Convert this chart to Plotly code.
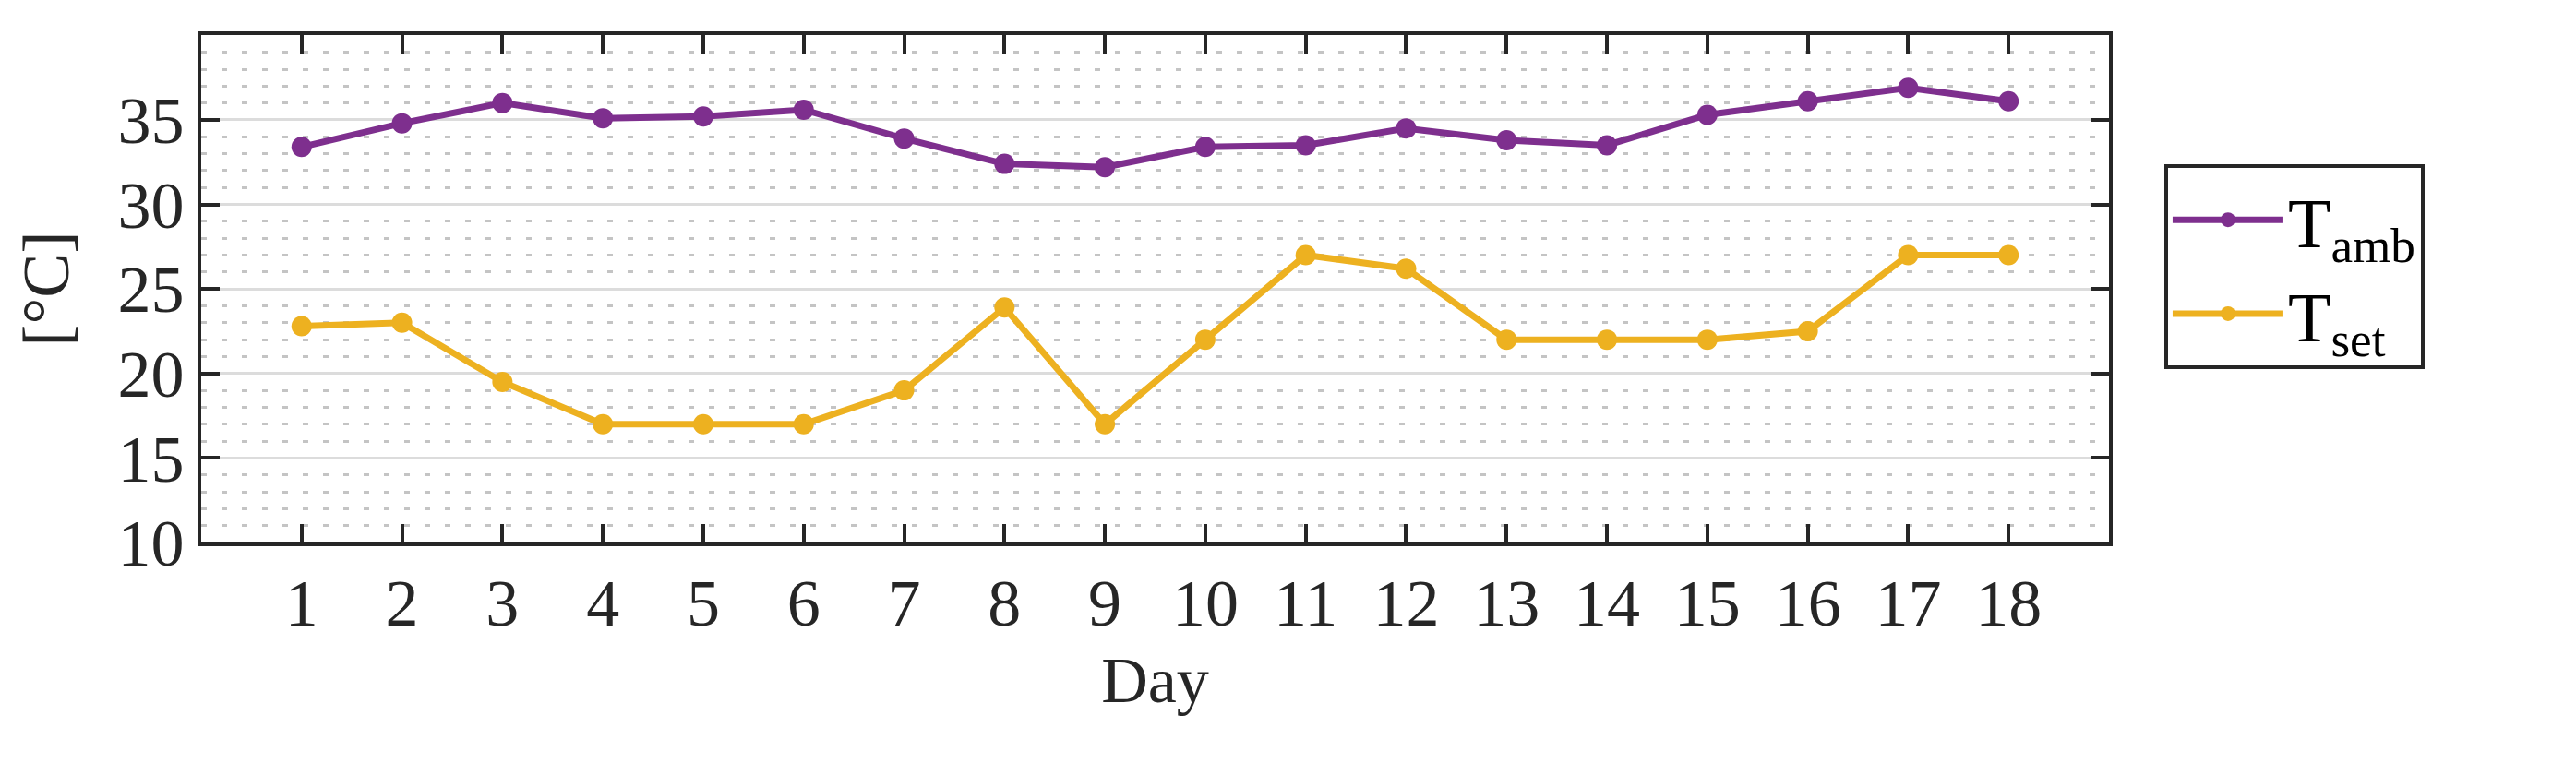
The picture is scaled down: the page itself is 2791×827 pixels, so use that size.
import plotly.graph_objects as go

days = list(range(1, 19))
t_amb = [33.4, 34.8, 36.0, 35.1, 35.2, 35.6, 33.9, 32.4, 32.2, 33.4, 33.5, 34.5, 33.8, 33.5, 35.3, 36.1, 36.9, 36.1]
t_set = [22.8, 23.0, 19.5, 17.0, 17.0, 17.0, 19.0, 23.9, 17.0, 22.0, 27.0, 26.2, 22.0, 22.0, 22.0, 22.5, 27.0, 27.0]
y_ticks = [10, 15, 20, 25, 30, 35, 40]

FONT = "Liberation Serif"
fig = go.Figure()
fig.add_trace(go.Scatter(x=days, y=t_amb, mode="lines+markers", name="T<sub>amb</sub>",
                         line=dict(color="#7E2F8E", width=7), marker=dict(size=22, color="#7E2F8E")))
fig.add_trace(go.Scatter(x=days, y=t_set, mode="lines+markers", name="T<sub>set</sub>",
                         line=dict(color="#EDB120", width=7), marker=dict(size=22, color="#EDB120")))

axcommon = dict(showline=True, linecolor="#262626", linewidth=4, mirror="ticks",
                ticks="inside", ticklen=20, tickwidth=4, tickcolor="#262626",
                tickfont=dict(family=FONT, size=72, color="#262626"), zeroline=False)
fig.update_xaxes(range=[0, 19], tickvals=days, showgrid=False,
                 title=dict(text="Day", font=dict(family=FONT, size=70, color="#262626"), standoff=20),
                 **axcommon)
fig.update_yaxes(range=[10, 40.02], tickvals=y_ticks, showgrid=True, gridcolor="#dcdcdc", gridwidth=3,
                 minor=dict(dtick=1, showgrid=True, gridcolor="#c4c4c4", gridwidth=3,
                            griddash="6px,16px", ticks=""),
                 title=dict(text="[°C]", font=dict(family=FONT, size=72, color="#262626"), standoff=30),
                 **axcommon)
fig.update_layout(width=2791, height=827, margin=dict(l=210, r=514, t=30, b=247),
                  plot_bgcolor="white", paper_bgcolor="white",
                  font=dict(family=FONT, color="#000"),
                  legend=dict(x=1.029, y=0.745, xanchor="left", yanchor="top",
                              bordercolor="#262626", borderwidth=4, bgcolor="white",
                              font=dict(family=FONT, size=76, color="#000"), itemwidth=120,
                              tracegroupgap=10))
fig.write_html("out.html")
